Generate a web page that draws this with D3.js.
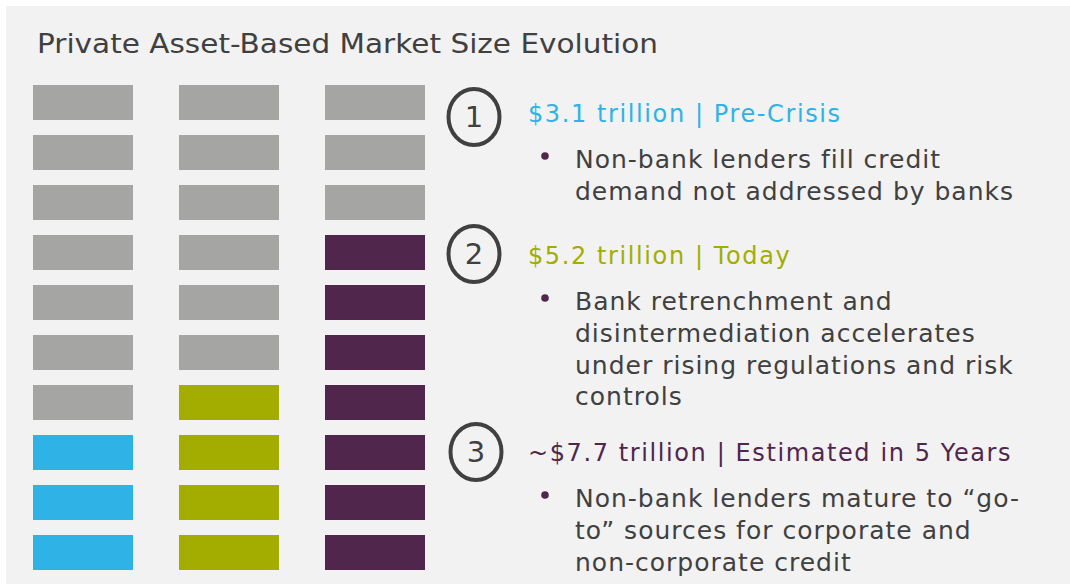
<!DOCTYPE html>
<html>
<head>
<meta charset="utf-8">
<script src="https://cdn.jsdelivr.net/npm/d3@7"></script>
<style>
  body { margin: 0; background: #fff; }
  svg { display: block; }
</style>
</head>
<body>
<svg id="chart"></svg>
<script>
// data
const periods = ["Pre-Crisis", "Today", "Estimated in 5 Years"];
const marketSize = [3.1, 5.2, 7.7];
const filledBlocks = [3, 4, 7];
const totalBlocks = 10;
const colors = ["#2fb3e6", "#a3ad00", "#51264d"];
const headings = ["$3.1 trillion | Pre-Crisis", "$5.2 trillion | Today", "~$7.7 trillion | Estimated in 5 Years"];
const bullets = [
  ["Non-bank lenders fill credit", "demand not addressed by banks"],
  ["Bank retrenchment and", "disintermediation accelerates", "under rising regulations and risk", "controls"],
  ["Non-bank lenders mature to \u201cgo-", "to\u201d sources for corporate and", "non-corporate credit"]
];

const W = 1070, H = 584;
const font = "'DejaVu Sans', Verdana, sans-serif";
const textColor = "#404040";

let svg = d3.select("#chart").attr("width", W).attr("height", H);

svg.append("rect")
  .attr("x", 6).attr("y", 6)
  .attr("width", W - 6).attr("height", H - 6)
  .attr("fill", "#f2f2f2");

svg.append("text")
  .attr("x", 37).attr("y", 53)
  .attr("font-family", font)
  .attr("font-size", "26px")
  .attr("fill", textColor)
  .attr("textLength", 621)
  .attr("lengthAdjust", "spacingAndGlyphs")
  .text("Private Asset-Based Market Size Evolution");

let x = d3.scaleBand()
  .domain(periods)
  .range([33, 425])
  .paddingInner(46 / 146);

let y = d3.scaleBand()
  .domain(d3.range(totalBlocks))
  .range([85, 570])
  .paddingInner(0.3);

let blocks = [];
periods.forEach((p, i) => {
  d3.range(totalBlocks).forEach(r => {
    blocks.push({ period: p, row: r, filled: r >= totalBlocks - filledBlocks[i], color: colors[i] });
  });
});

svg.append("g").selectAll("rect")
  .data(blocks)
  .enter()
  .append("rect")
  .attr("x", d => x(d.period))
  .attr("y", d => y(d.row))
  .attr("width", x.bandwidth())
  .attr("height", y.bandwidth())
  .attr("fill", d => d.filled ? d.color : "#a5a5a3");

// annotations on the right
const headY = [113, 255, 452];
const circleX = [474, 474, 476];
const circleY = [117, 254, 452];
const lineGap = 31.8;

let notes = svg.append("g").selectAll("g")
  .data(periods)
  .enter()
  .append("g");

notes.append("ellipse")
  .attr("cx", (d, i) => circleX[i])
  .attr("cy", (d, i) => circleY[i])
  .attr("rx", 25.5)
  .attr("ry", 28)
  .attr("fill", "none")
  .attr("stroke", textColor)
  .attr("stroke-width", 4);

notes.append("text")
  .attr("x", (d, i) => circleX[i])
  .attr("y", (d, i) => circleY[i])
  .attr("dy", "0.36em")
  .attr("text-anchor", "middle")
  .attr("font-family", font)
  .attr("font-size", "29px")
  .attr("fill", textColor)
  .text((d, i) => i + 1);

notes.append("text")
  .attr("x", 528)
  .attr("y", (d, i) => headY[i])
  .attr("dy", "0.36em")
  .attr("font-family", font)
  .attr("font-size", "24px")
  .attr("letter-spacing", "1.6px")
  .attr("fill", (d, i) => colors[i])
  .text((d, i) => headings[i]);

notes.append("circle")
  .attr("cx", 545)
  .attr("cy", (d, i) => headY[i] + 43)
  .attr("r", 3.8)
  .attr("fill", "#51264d");

notes.each(function(d, i) {
  d3.select(this).selectAll("text.line")
    .data(bullets[i])
    .enter()
    .append("text")
    .attr("class", "line")
    .attr("x", 575)
    .attr("y", (t, j) => headY[i] + 46 + j * lineGap)
    .attr("dy", "0.36em")
    .attr("font-family", font)
    .attr("font-size", "25px")
    .attr("letter-spacing", "1px")
    .attr("fill", textColor)
    .text(t => t);
});
</script>
</body>
</html>
